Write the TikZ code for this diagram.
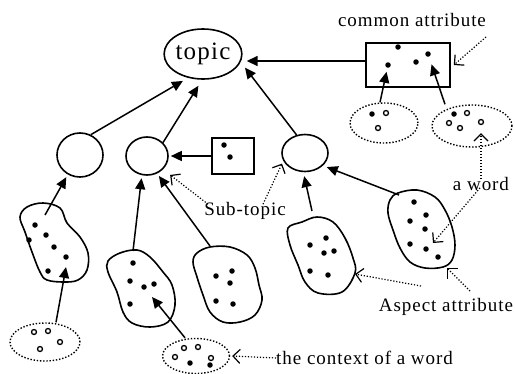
\documentclass[tikz,border=0pt]{standalone}
\usepackage{fontspec}
\setmainfont{Liberation Serif}[LetterSpace=5]
\usetikzlibrary{arrows.meta, positioning, shapes}

\tikzset{
	topnode/.style={ellipse, draw, line width=1.6pt, inner sep=0pt},
	box/.style={rectangle, draw, line width=1.6pt, inner sep=0pt},
	ctx/.style={ellipse, draw, dash pattern=on 1.4pt off 1.8pt, line width=1.4pt, inner sep=0pt},
	dotf/.style={circle, fill, inner sep=0pt, minimum size=5.5pt},
	doto/.style={circle, draw, line width=1.3pt, inner sep=0pt, minimum size=5pt},
	blob/.style={line width=1.6pt},
	link/.style={line width=1.5pt, -{Triangle[length=11pt,width=10pt]}},
	hint/.style={dash pattern=on 1.2pt off 1.8pt, line width=1.2pt, -{Straight Barb[length=7pt,width=14pt]}},
	lbl/.style={font=\fontsize{19}{21}\selectfont, inner sep=0pt}
}

\begin{document}
\begin{tikzpicture}[x=1pt, y=-1pt]
	\useasboundingbox (0,0) rectangle (515,373);
	
	% topic, sub-topics and attribute boxes
	\node[topnode, minimum width=66pt, minimum height=50pt, font=\fontsize{25}{27}\selectfont] (topic) at (203,54) {topic};
	\node[topnode, minimum width=46pt, minimum height=44pt] (subL) at (80,155) {};
	\node[topnode, minimum width=42pt, minimum height=38pt] (subM) at (147,156) {};
	\node[topnode, minimum width=46pt, minimum height=37pt] (subR) at (305,153) {};
	\node[box, minimum width=84pt, minimum height=44pt] (comm) at (408,65) {};
	\node[box, minimum width=42pt, minimum height=36pt] (sbox) at (233,156) {};
	
	\node[ctx, minimum width=68pt, minimum height=40pt] (ctxA) at (384,123) {};
	\node[ctx, minimum width=80pt, minimum height=42pt] (ctxB) at (472,126) {};
	\node[ctx, minimum width=70pt, minimum height=38pt] (ctxL) at (45,342) {};
	\node[ctx, minimum width=67pt, minimum height=35pt] (ctxM) at (196,356) {};
	
	% labels
	\node[lbl] (commlbl) at (412,20) {common attribute};
	\node[lbl] (subtlbl) at (245,211) {Sub-topic};
	\node[lbl] (wordlbl) at (481,184) {a word};
	\node[lbl] (asplbl) at (446,307) {Aspect attribute};
	\node[lbl, anchor=west] (ctxlbl) at (276,358) {the context of a word};
	
	% blobs of words
	\draw[blob] plot[smooth cycle, tension=0.6] coordinates {(27,207) (43,203) (60,208) (67,223) (80,237) (88,253) (87,270) (78,280) (64,282) (47,280) (40,272) (32,252) (25,232) (20,217)};
	\draw[blob] plot[smooth cycle, tension=0.6] coordinates {(120,253) (137,250) (150,257) (163,272) (172,285) (175,305) (168,322) (150,327) (132,323) (123,312) (117,292) (108,272) (108,261)};
	\draw[blob] plot[smooth cycle, tension=0.6] coordinates {(197,253) (210,247) (230,247) (247,255) (255,268) (259,285) (262,300) (255,315) (240,322) (223,322) (210,312) (203,295) (197,277) (193,262)};
	\draw[blob] plot[smooth cycle, tension=0.6] coordinates {(302,222) (317,217) (333,222) (345,238) (353,258) (355,273) (342,292) (318,293) (305,282) (298,265) (290,245) (288,228)};
	\draw[blob] plot[smooth cycle, tension=0.6] coordinates {(390,200) (398,193) (417,190) (435,197) (445,210) (452,227) (455,245) (452,260) (443,267) (425,268) (410,262) (400,248) (393,230) (388,213)};
	
	% dots
	\foreach \x/\y [count=\i] in {398/47, 388/65, 416/62, 428/54, 224/145, 230/157,
		35/225, 46/235, 54/247, 66/257, 48/271, 29/240,
		133/263, 130/281, 144/287, 154/284, 130/304,
		216/276, 232/271, 230/283, 216/301, 233/304,
		310/245, 326/238, 324/253, 334/251, 310/271, 328/275,
		414/202, 426/215, 410/221, 425/229, 410/244, 426/249, 438/257,
		372/114, 454/114, 190/363, 210/365}
		\node[dotf] (d\i) at (\x,\y) {};
	\foreach \x/\y [count=\i] in {386/113, 378/128, 467/113, 449/123, 460/128,
		34/332, 48/331, 40/349, 60/342, 175/357, 184/348, 198/347, 211/358}
		\node[doto] (o\i) at (\x,\y) {};
	\node[doto] (w) at (481,122) {};
	
	% free ends
	\coordinate (b1top) at (45,215);
	\coordinate (b2top) at (133,251);
	\coordinate (b3top) at (210,246);
	\coordinate (b4top) at (312,211);
	\coordinate (b5top) at (399,195);
	\coordinate (b1in) at (66,267);
	\coordinate (b2in) at (152,297);
	\coordinate (b4r) at (355,274);
	\coordinate (b5b) at (447,268);
	\coordinate (b5w) at (433,243);
	\coordinate (hcomm) at (486,37);
	\coordinate (haspA) at (421,286);
	\coordinate (haspB) at (470,291);
	
	% arrows
	\draw[link, shorten >=6pt] (subL.62) -- (topic.238);
	\draw[link, shorten >=7pt] (subM.40) -- (topic.268);
	\draw[link, shorten >=7pt] (subR.115) -- (topic.-12);
	\draw[link, shorten >=4pt] ([yshift=4pt]comm.west) -- ([yshift=4pt]comm.west -| topic.east);
	\draw[link, shorten >=2pt] (sbox.west) -- (subM.east);
	\draw[link, shorten >=4pt] ([xshift=-4pt]ctxA.north) -- (d2);
	\draw[link, shorten >=8pt] ([xshift=-27pt]ctxB.north) -- (d4);
	
	\draw[link, shorten >=3pt] (b1top) -- (subL.238);
	\draw[link, shorten >=3pt] (b2top) -- (subM.255);
	\draw[link, shorten >=3pt] (b3top) -- (subM.-60);
	\draw[link, shorten >=4pt] (b4top) -- (subR.265);
	\draw[link, shorten >=4pt] (b5top) -- (subR.-35);
	\draw[link] ([xshift=11pt]ctxL.north) -- (b1in);
	\draw[link] ([xshift=-11pt]ctxM.north) -- (b2in);
	
	% dotted hints
	\draw[hint] (hcomm) -- ([xshift=3pt]comm.east);
	\draw[hint, shorten >=9pt] ([xshift=-37pt,yshift=-2pt]subtlbl.north) -- (subM.-40);
	\draw[hint, shorten >=3pt] ([xshift=18pt,yshift=-2pt]subtlbl.north) -- (subR.200);
	\draw[hint, shorten >=8pt] ([yshift=-2pt]wordlbl.north) -- (w);
	\draw[hint] ([xshift=-1pt,yshift=3pt]wordlbl.south) -- (b5w);
	\draw[hint] (haspA) -- (b4r);
	\draw[hint] (haspB) -- (b5b);
	\draw[hint] (ctxlbl.west) -- ([xshift=2pt]ctxM.east);
\end{tikzpicture}
\end{document}
